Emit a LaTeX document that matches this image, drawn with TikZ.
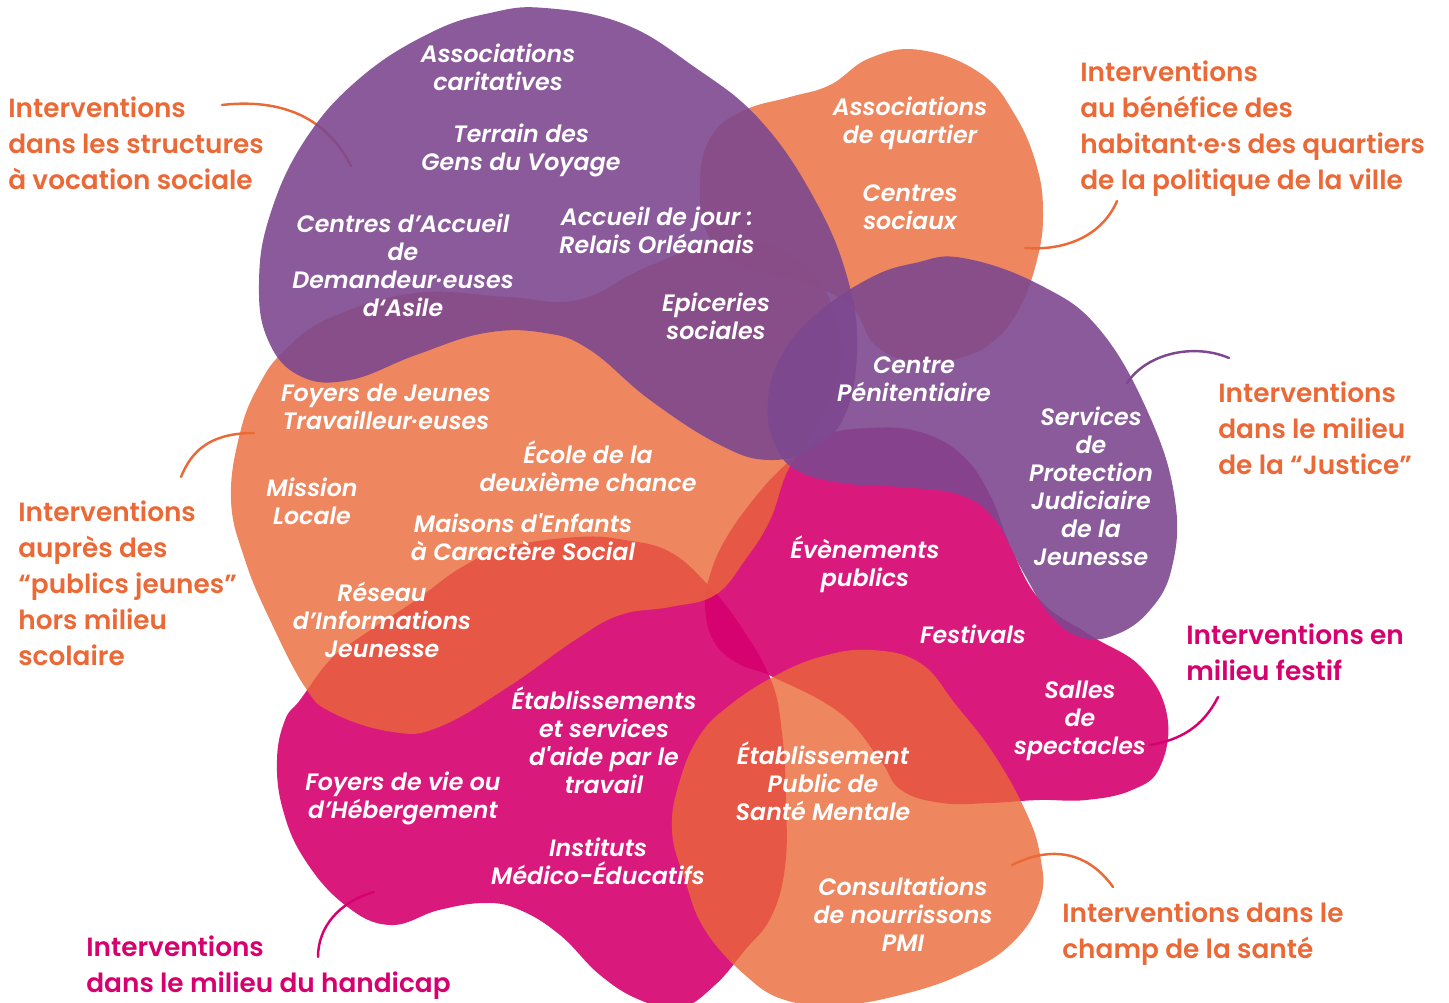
\documentclass[tikz,border=0pt]{standalone}
\usepackage{fontspec}
\newfontfamily\labelfont{Poppins}[UprightFont=* SemiBold]
\newfontfamily\blobfont{Poppins}[UprightFont=* SemiBold Italic]
\usepackage{tikz}
\usetikzlibrary{calc,positioning}

\definecolor{plum}{RGB}{126,72,144}
\definecolor{tangerine}{RGB}{234,105,55}
\definecolor{fuchsia}{RGB}{214,0,111}

\begin{document}
\begin{tikzpicture}[x=0.02cm,y=-0.02cm,
	purpleblob/.style={fill=plum,fill opacity=0.9},
	orangeblob/.style={fill=tangerine,fill opacity=0.8},
	pinkblob/.style={fill=fuchsia,fill opacity=0.9},
	inblob/.style={text=white,align=center,inner sep=0pt,yshift=-0.06cm,font=\blobfont\fontsize{13.5}{15.9}\selectfont},
	lbl/.style={anchor=west,align=left,inner sep=0pt,yshift=-0.06cm,font=\labelfont\fontsize{15}{20.5}\selectfont},
	link/.style={line width=1.4pt,line cap=round}]
			
			\useasboundingbox (0,0) rectangle (1449,1003);
			
			% connectors (under the blobs)
			\coordinate (socialA) at (222,105);
			\coordinate (socialB) at (351,166);
			\coordinate (quartierA) at (1117,201);
			\coordinate (quartierB) at (1025,248);
			\coordinate (justiceA) at (1127,383);
			\coordinate (justiceB) at (1229,358);
			\coordinate (festifA) at (1218,697);
			\coordinate (festifB) at (1150,745);
			\coordinate (santeA) at (1012,865);
			\coordinate (santeB) at (1113,887);
			\coordinate (handicapA) at (374,892);
			\coordinate (handicapB) at (318,957);
			\coordinate (jeunesA) at (254,433);
			\coordinate (jeunesB) at (181,477);
			
			\draw[link,tangerine] (socialA) .. controls +(70,-8) and +(-20,-40) .. (socialB);
			\draw[link,tangerine] (quartierA) .. controls +(-15,35) and +(40,3) .. (quartierB);
			\draw[link,plum] (justiceA) .. controls +(20,-30) and +(-35,-15) .. (justiceB);
			\draw[link,fuchsia] (festifA) .. controls +(-15,30) and +(30,-5) .. (festifB);
			\draw[link,tangerine] (santeA) .. controls +(40,-20) and +(-25,-35) .. (santeB);
			\draw[link,fuchsia] (handicapA) .. controls +(-35,10) and +(0,-30) .. (handicapB);
			\draw[link,tangerine] (jeunesA) .. controls +(-45,0) and +(10,-25) .. (jeunesB);
			
			% pink blobs
			\fill[pinkblob] plot[smooth cycle,tension=0.7] coordinates {(300,700) (330,660) (360,637) (416,600) (462,567) (508,547) (578,537) (625,540) (670,552) (708,585) (740,625) (771,680) (782,733) (786,800) (785,867) (771,917) (745,950) (715,985) (680,1008) (640,1000) (600,975) (560,935) (520,910) (485,903) (439,910) (390,925) (345,905) (305,860) (283,810) (277,760) (285,720)};
			\fill[pinkblob] plot[smooth cycle,tension=0.7] coordinates {(783,467) (820,437) (870,428) (920,432) (962,455) (990,495) (1010,545) (1040,600) (1090,635) (1141,667) (1167,715) (1160,767) (1132,790) (1086,800) (1039,800) (990,803) (942,803) (901,790) (880,760) (840,713) (773,677) (737,663) (713,640) (705,605) (710,575) (725,540) (753,500)};
			
			% orange blobs
			\fill[orangeblob] plot[smooth cycle,tension=0.7] coordinates {(231,500) (240,433) (259,385) (285,350) (330,318) (416,293) (508,297) (578,300) (647,267) (725,240) (790,255) (830,300) (840,370) (815,430) (788,470) (770,520) (745,560) (715,595) (670,607) (620,615) (575,640) (508,687) (439,727) (393,732) (333,713) (305,687) (270,620) (245,560)};
			\fill[orangeblob] plot[smooth cycle,tension=0.7] coordinates {(920,50) (980,73) (1015,115) (1037,167) (1043,215) (1037,260) (1020,307) (995,340) (960,358) (915,362) (875,345) (850,305) (800,282) (740,265) (708,235) (700,180) (712,135) (745,110) (790,97) (830,85) (870,58)};
			\fill[orangeblob] plot[smooth cycle,tension=0.7] coordinates {(773,677) (820,657) (870,650) (920,663) (956,705) (993,753) (1025,810) (1040,855) (1040,900) (1010,945) (960,975) (900,995) (840,1005) (785,1000) (745,975) (705,930) (685,880) (672,830) (680,780) (700,735) (730,705)};
			
			% purple blobs
			\fill[purpleblob] plot[smooth cycle,tension=0.7] coordinates {(545,8) (624,24) (693,66) (760,120) (815,200) (848,280) (857,350) (845,415) (815,447) (770,460) (720,445) (650,400) (590,350) (545,333) (485,333) (416,355) (350,380) (300,376) (268,340) (259,283) (270,215) (305,140) (360,78) (430,33) (490,13)};
			\fill[purpleblob] plot[smooth cycle,tension=0.7] coordinates {(963,258) (1040,285) (1100,330) (1150,417) (1175,500) (1172,567) (1150,610) (1115,635) (1080,637) (1050,615) (1022,570) (995,520) (960,495) (900,487) (850,484) (800,472) (775,445) (768,400) (782,355) (815,315) (870,278) (915,263)};
			
			% texts in the blobs
			\node[inblob] (caritatives) at (498,64) {Associations\\caritatives};
			\node[inblob] (voyage) at (521,147) {Terrain des\\Gens du Voyage};
			\node[inblob] (cada) at (403,262) {Centres d’Accueil\\de\\Demandeur·euses\\d‘Asile};
			\node[inblob] (accueiljour) at (657,227) {Accueil de jour :\\Relais Orléanais};
			\node[inblob] (epiceries) at (716,313) {Epiceries\\sociales};
			\node[inblob] (assoquartier) at (910,120) {Associations\\de quartier};
			\node[inblob] (centressociaux) at (910,204) {Centres\\sociaux};
			\node[inblob] (penitentiaire) at (914,376) {Centre\\Pénitentiaire};
			\node[inblob] (pjj) at (1091,483) {Services\\de\\Protection\\Judiciaire\\de la\\Jeunesse};
			\node[inblob] (fjt) at (386,404) {Foyers de Jeunes\\Travailleur·euses};
			\node[inblob] (ecole) at (588,463) {École de la\\deuxième chance};
			\node[inblob] (mission) at (312,498) {Mission\\Locale};
			\node[inblob] (mecs) at (523,534) {Maisons d'Enfants\\à Caractère Social};
			\node[inblob] (reseau) at (382,617) {Réseau\\d’Informations\\Jeunesse};
			\node[inblob] (evenements) at (865,561) {Évènements\\publics};
			\node[inblob] (festivals) at (973,631) {Festivals};
			\node[inblob] (salles) at (1080,718) {Salles\\de\\spectacles};
			\node[inblob] (esat) at (604,737) {Établissements\\et services\\d'aide par le\\travail};
			\node[inblob] (foyersvie) at (403,795) {Foyers de vie ou\\d’Hébergement};
			\node[inblob] (epsm) at (823,778) {Établissement\\Public de\\Santé Mentale};
			\node[inblob] (ime) at (598,858) {Instituts\\Médico-Éducatifs};
			\node[inblob] (pmi) at (903,911) {Consultations\\de nourrissons\\PMI};
			
			% labels
			\node[lbl,tangerine] (lblsocial) at (8,140) {Interventions\\dans les structures\\à vocation sociale};
			\node[lbl,tangerine] (lblquartier) at (1080,126) {Interventions\\au bénéfice des\\habitant·e·s des quartiers\\de la politique de la ville};
			\node[lbl,tangerine] (lbljustice) at (1218,425) {Interventions\\dans le milieu\\de la “Justice”};
			\node[lbl,tangerine] (lbljeunes) at (18,580) {Interventions\\auprès des\\“publics jeunes”\\hors milieu\\scolaire};
			\node[lbl,fuchsia] (lblfestif) at (1186,649) {Interventions en\\milieu festif};
			\node[lbl,tangerine] (lblsante) at (1062,931) {Interventions dans le\\champ de la santé};
			\node[lbl,fuchsia] (lblhandicap) at (86,965) {Interventions\\dans le milieu du handicap};
			
		\end{tikzpicture}
\end{document}
